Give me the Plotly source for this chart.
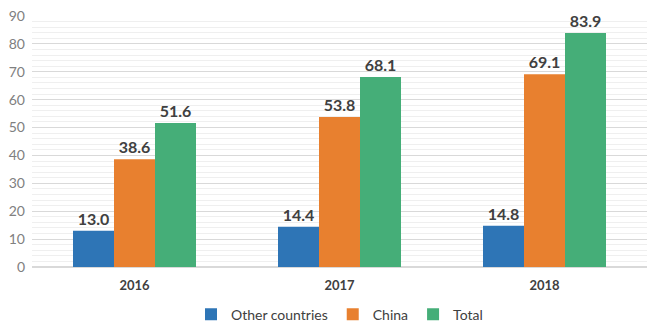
import plotly.graph_objects as go

years = ["2016", "2017", "2018"]
other = [13.0, 14.4, 14.8]
china = [38.6, 53.8, 69.1]
total = [51.6, 68.1, 83.9]
yticks = [0, 10, 20, 30, 40, 50, 60, 70, 80, 90]

fig = go.Figure()
for name, vals, col in [("Other countries", other, "#2E75B6"),
                        ("China", china, "#E8802F"),
                        ("Total", total, "#45AE78")]:
    fig.add_trace(go.Bar(
        x=years, y=vals, name=name, marker=dict(color=col, line=dict(width=0)),
        text=[f"{v:.1f}" for v in vals], textposition="outside",
        textfont=dict(size=16, color="#404040", family="Lato", weight="bold"),
        cliponaxis=False,
    ))

fig.update_layout(
    width=651, height=326,
    margin=dict(l=32, r=4, t=16, b=59, autoexpand=False),
    paper_bgcolor="white", plot_bgcolor="white",
    barmode="group", bargap=0.4, bargroupgap=0,
    font=dict(family="Lato", color="#595959"),
    legend=dict(orientation="h", x=0.5, xanchor="center", y=-0.19, yanchor="middle",
                font=dict(size=14, color="#404040"), itemwidth=30),
    showlegend=True,
)
fig.update_xaxes(tickfont=dict(size=13, color="#404040", weight="bold"),
                 showline=True, linecolor="#D9D9D9", ticks="", ticklabelstandoff=6)
fig.update_yaxes(range=[0, 90], tickvals=yticks, ticktext=[str(t) for t in yticks],
                 tickfont=dict(size=14, color="#808080"),
                 showgrid=True, gridcolor="#D9D9D9", gridwidth=1,
                 minor=dict(dtick=2, showgrid=True, gridcolor="#EFEFEF", gridwidth=1),
                 zeroline=True, zerolinecolor="#D9D9D9", ticklabelstandoff=6)

fig.write_html("out.html")
